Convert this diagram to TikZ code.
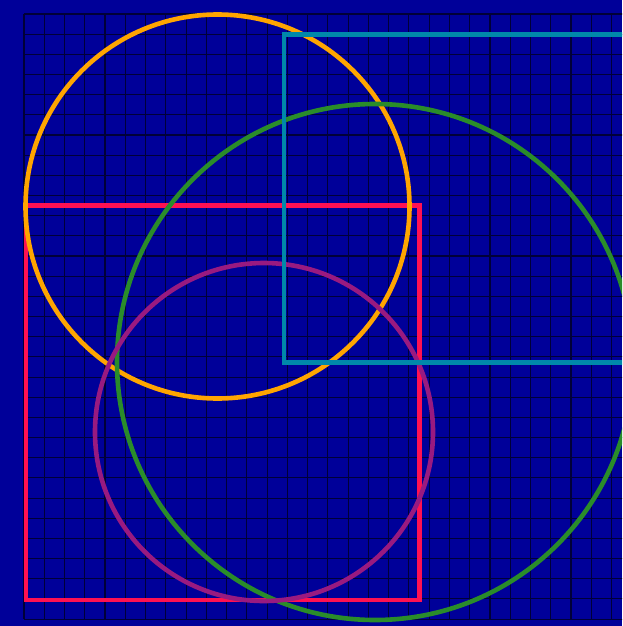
\documentclass[tikz,border=0pt]{standalone}
\usepackage{xcolor}
\usepackage{tikz}
\definecolor{BGblue}{HTML}{000099}
\definecolor{GRIDline}{HTML}{000038}
\definecolor{RINGorange}{HTML}{FFA500}
\definecolor{BOXred}{HTML}{FF1152}
\definecolor{BOXteal}{HTML}{0088AA}
\definecolor{RINGgreen}{HTML}{2A8C2A}
\definecolor{RINGpurple}{HTML}{991A80}
\tikzset{
  gridline/.style={draw=GRIDline,line width=1.1pt},
  shapeline/.style={line width=4.8pt},
  ringline/.style={shapeline,line width=4.6pt}
}

\begin{document}
\begin{tikzpicture}[x=1pt,y=-1pt]
\fill[BGblue] (0,0) rectangle (622,626);
\useasboundingbox (0,0) rectangle (622,626);
\begin{scope}
\clip (0,0) rectangle (622,626);
% grid
\foreach \k in {0,...,29}
  \draw[gridline] ({24+20.26*\k},14) -- ({24+20.26*\k},619);
\foreach \k in {0,...,30}
  \draw[gridline] (24,{14+20.17*\k}) -- (640,{14+20.17*\k});

% shapes
\draw[shapeline,BOXred] (26,205.5) rectangle (419.5,600);
\draw[ringline,RINGorange] (217.5,206.5) circle[radius=192];
\draw[ringline,RINGgreen] (375,362) circle[radius=258];
\draw[ringline,RINGpurple] (264,432) circle[radius=169];
\draw[shapeline,BOXteal] (640,34.5) -- (284,34.5) -- (284,362.5) -- (640,362.5);
\end{scope}
\end{tikzpicture}
\end{document}
